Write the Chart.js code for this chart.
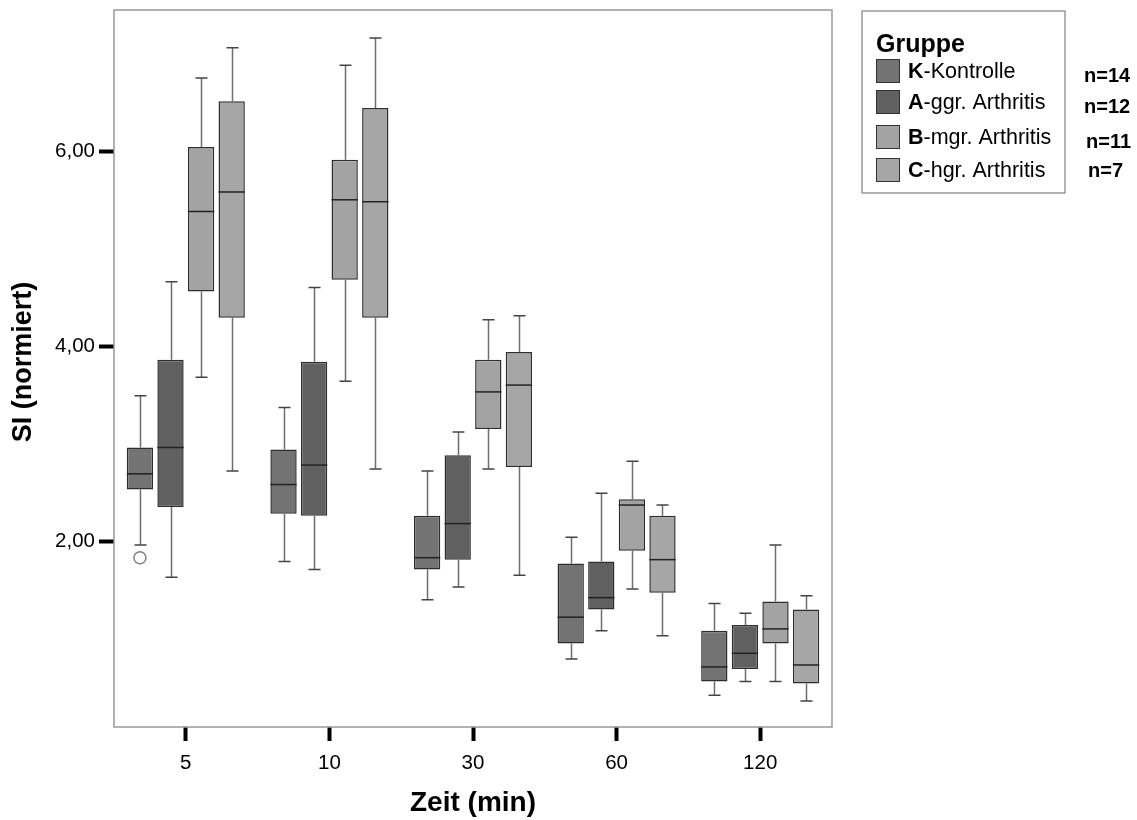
<!DOCTYPE html>
<html>
<head>
<meta charset="utf-8">
<script src="https://cdn.jsdelivr.net/npm/chart.js@4"></script>
<style>
  html, body { margin: 0; padding: 0; background: #fff; }
  #wrap { width: 1137px; height: 820px; position: relative; }
</style>
</head>
<body>
<div id="wrap"><canvas id="boxChart"></canvas></div>
<script>
    // Zeitpunkte (x-Achse)
    const zeiten = ['5', '10', '30', '60', '120'];
    const yTicks = [2, 4, 6];

    // Gruppen: Kennbuchstabe, Rest des Namens, Fallzahl
    const gruppenKurz = ['K', 'A', 'B', 'C'];
    const gruppenName = ['-Kontrolle', '-ggr. Arthritis', '-mgr. Arthritis', '-hgr. Arthritis'];
    const fallzahlen = ['n=14', 'n=12', 'n=11', 'n=7'];
    const farben = ['#737373', '#606060', '#a3a3a3', '#a6a6a6'];

    // je Zeitpunkt: [Min, Q1, Median, Q3, Max]
    const kontrolle = [
    [1.96, 2.53, 2.69, 2.96, 3.49],
    [1.79, 2.28, 2.58, 2.94, 3.37],
    [1.40, 1.71, 1.83, 2.26, 2.72],
    [0.79, 0.95, 1.22, 1.77, 2.04],
    [0.42, 0.56, 0.71, 1.08, 1.36]
];
    const ggrArthritis = [
    [1.63, 2.35, 2.96, 3.86, 4.66],
    [1.71, 2.26, 2.78, 3.84, 4.60],
    [1.53, 1.81, 2.18, 2.88, 3.12],
    [1.08, 1.30, 1.42, 1.79, 2.49],
    [0.56, 0.69, 0.85, 1.14, 1.26]
];
    const mgrArthritis = [
    [3.68, 4.56, 5.38, 6.04, 6.75],
    [3.64, 4.68, 5.50, 5.91, 6.88],
    [2.74, 3.15, 3.53, 3.86, 4.27],
    [1.51, 1.90, 2.37, 2.43, 2.82],
    [0.56, 0.95, 1.10, 1.38, 1.96]
];
    const hgrArthritis = [
    [2.72, 4.29, 5.58, 6.51, 7.06],
    [2.74, 4.29, 5.48, 6.44, 7.16],
    [1.65, 2.76, 3.60, 3.94, 4.31],
    [1.03, 1.47, 1.81, 2.26, 2.37],
    [0.36, 0.54, 0.73, 1.30, 1.44]
];
    // Ausreisser: Gruppe-Index, Zeit-Index, Wert
    const ausreisser = [[0, 0, 1.83]];

    const gruppenDaten = [kontrolle, ggrArthritis, mgrArthritis, hgrArthritis];
    const FONT = '"Liberation Sans", Arial, sans-serif';

    // Whisker, Median, Ausreisser, Rahmen und Legende zeichnen
    const boxplotPlugin = {
    id: 'boxplot',
    afterDatasetsDraw(chart) {
    const ctx = chart.ctx;
    const y = chart.scales.y;
    ctx.save();
    gruppenDaten.forEach((rows, i) => {
    const meta = chart.getDatasetMeta(i);
    meta.data.forEach((bar, j) => {
    const s = rows[j];
    const x = Math.round(bar.x) + 0.5;
    const half = bar.width / 2;
    const cap = 6;
    // Whisker
    ctx.strokeStyle = '#6e6e6e';
    ctx.lineWidth = 1.5;
    ctx.beginPath();
    ctx.moveTo(x, y.getPixelForValue(s[3]));
    ctx.lineTo(x, y.getPixelForValue(s[4]));
    ctx.moveTo(x, y.getPixelForValue(s[1]));
    ctx.lineTo(x, y.getPixelForValue(s[0]));
    ctx.stroke();
    ctx.strokeStyle = '#444';
    ctx.beginPath();
    ctx.moveTo(x - cap, y.getPixelForValue(s[4]));
    ctx.lineTo(x + cap, y.getPixelForValue(s[4]));
    ctx.moveTo(x - cap, y.getPixelForValue(s[0]));
    ctx.lineTo(x + cap, y.getPixelForValue(s[0]));
    ctx.stroke();
    // Median
    ctx.strokeStyle = '#222';
    ctx.lineWidth = 1.5;
    ctx.beginPath();
    ctx.moveTo(bar.x - half, y.getPixelForValue(s[2]));
    ctx.lineTo(bar.x + half, y.getPixelForValue(s[2]));
    ctx.stroke();
});
});
    ausreisser.forEach(([g, t, v]) => {
    const bar = chart.getDatasetMeta(g).data[t];
    ctx.strokeStyle = '#808080';
    ctx.lineWidth = 1.5;
    ctx.beginPath();
    ctx.arc(bar.x, y.getPixelForValue(v), 6, 0, Math.PI * 2);
    ctx.stroke();
});
    ctx.restore();
},
    afterDraw(chart) {
    const ctx = chart.ctx;
    const a = chart.chartArea;
    ctx.save();
    // Rahmen um die Plotflaeche
    ctx.strokeStyle = '#999';
    ctx.lineWidth = 1.5;
    ctx.strokeRect(a.left, a.top, a.right - a.left, a.bottom - a.top);

    // Achsentitel
    ctx.fillStyle = '#000';
    ctx.font = 'bold 28px ' + FONT;
    ctx.textAlign = 'center';
    ctx.textBaseline = 'middle';
    ctx.fillText('Zeit (min)', (a.left + a.right) / 2, 803);
    ctx.save();
    ctx.translate(24, 362);
    ctx.rotate(-Math.PI / 2);
    ctx.font = 'bold 27px ' + FONT;
    ctx.fillText('SI (normiert)', 0, 0);
    ctx.restore();

    // Legende
    ctx.strokeStyle = '#999';
    ctx.lineWidth = 1.5;
    ctx.strokeRect(862, 11, 203, 182);
    ctx.textAlign = 'left';
    ctx.textBaseline = 'alphabetic';
    ctx.font = 'bold 25px ' + FONT;
    ctx.fillText('Gruppe', 876, 52);
    const swY = [59, 90, 125, 158];
    const nY = [76, 107, 142, 171];
    const nX = [1084, 1084, 1086, 1088];
    gruppenKurz.forEach((k, i) => {
    ctx.fillStyle = farben[i];
    ctx.fillRect(876, swY[i], 24, 24);
    ctx.strokeStyle = '#333';
    ctx.lineWidth = 1;
    ctx.strokeRect(876.5, swY[i] + 0.5, 23, 23);
    ctx.fillStyle = '#000';
    ctx.textBaseline = 'middle';
    ctx.font = 'bold 21.5px ' + FONT;
    ctx.fillText(k, 908, swY[i] + 13);
    const kw = ctx.measureText(k).width;
    ctx.font = '21.5px ' + FONT;
    ctx.fillText(gruppenName[i], 908 + kw, swY[i] + 13);
    ctx.font = 'bold 20px ' + FONT;
    ctx.fillText(fallzahlen[i], nX[i], nY[i]);
});
    ctx.restore();
}
};

    const boxChart = new Chart(document.getElementById('boxChart'), {
    type: 'bar',
    data: {
    labels: zeiten,
    datasets: gruppenDaten.map((rows, i) => ({
    label: gruppenKurz[i] + gruppenName[i],
    data: rows.map(s => [s[1], s[3]]),
    backgroundColor: farben[i],
    borderColor: '#2e2e2e',
    borderWidth: 1.5,
    borderSkipped: false,
    categoryPercentage: 0.852,
    barPercentage: 0.86
}))
},
    options: {
    responsive: true,
    maintainAspectRatio: false,
    animation: false,
    events: [],
    layout: {
    padding: { top: 10, right: 305, left: 0, bottom: 0 }
},
    plugins: {
    legend: { display: false },
    tooltip: { enabled: false }
},
    scales: {
    x: {
    afterFit: (scale) => { scale.height = 93; scale.paddingLeft = 0; scale.paddingRight = 0; },
    border: { display: false },
    grid: {
    offset: false,
    drawOnChartArea: false,
    tickLength: 14,
    tickWidth: 4,
    tickColor: '#000'
},
    ticks: {
    color: '#000',
    padding: 10,
    font: { family: FONT, size: 20.5 }
}
},
    y: {
    min: 0.094,
    max: 7.446,
    afterFit: (scale) => { scale.width = 114; scale.paddingTop = 0; scale.paddingBottom = 0; },
    afterBuildTicks: (scale) => { scale.ticks = yTicks.map(v => ({ value: v })); },
    border: { display: false },
    grid: {
    drawOnChartArea: false,
    tickLength: 15,
    tickWidth: 4,
    tickColor: '#000'
},
    ticks: {
    color: '#000',
    padding: 4,
    font: { family: FONT, size: 20.5 },
    callback: (v) => v.toFixed(2).replace('.', ',')
}
}
}
},
    plugins: [boxplotPlugin]
});
</script>
</body>
</html>
